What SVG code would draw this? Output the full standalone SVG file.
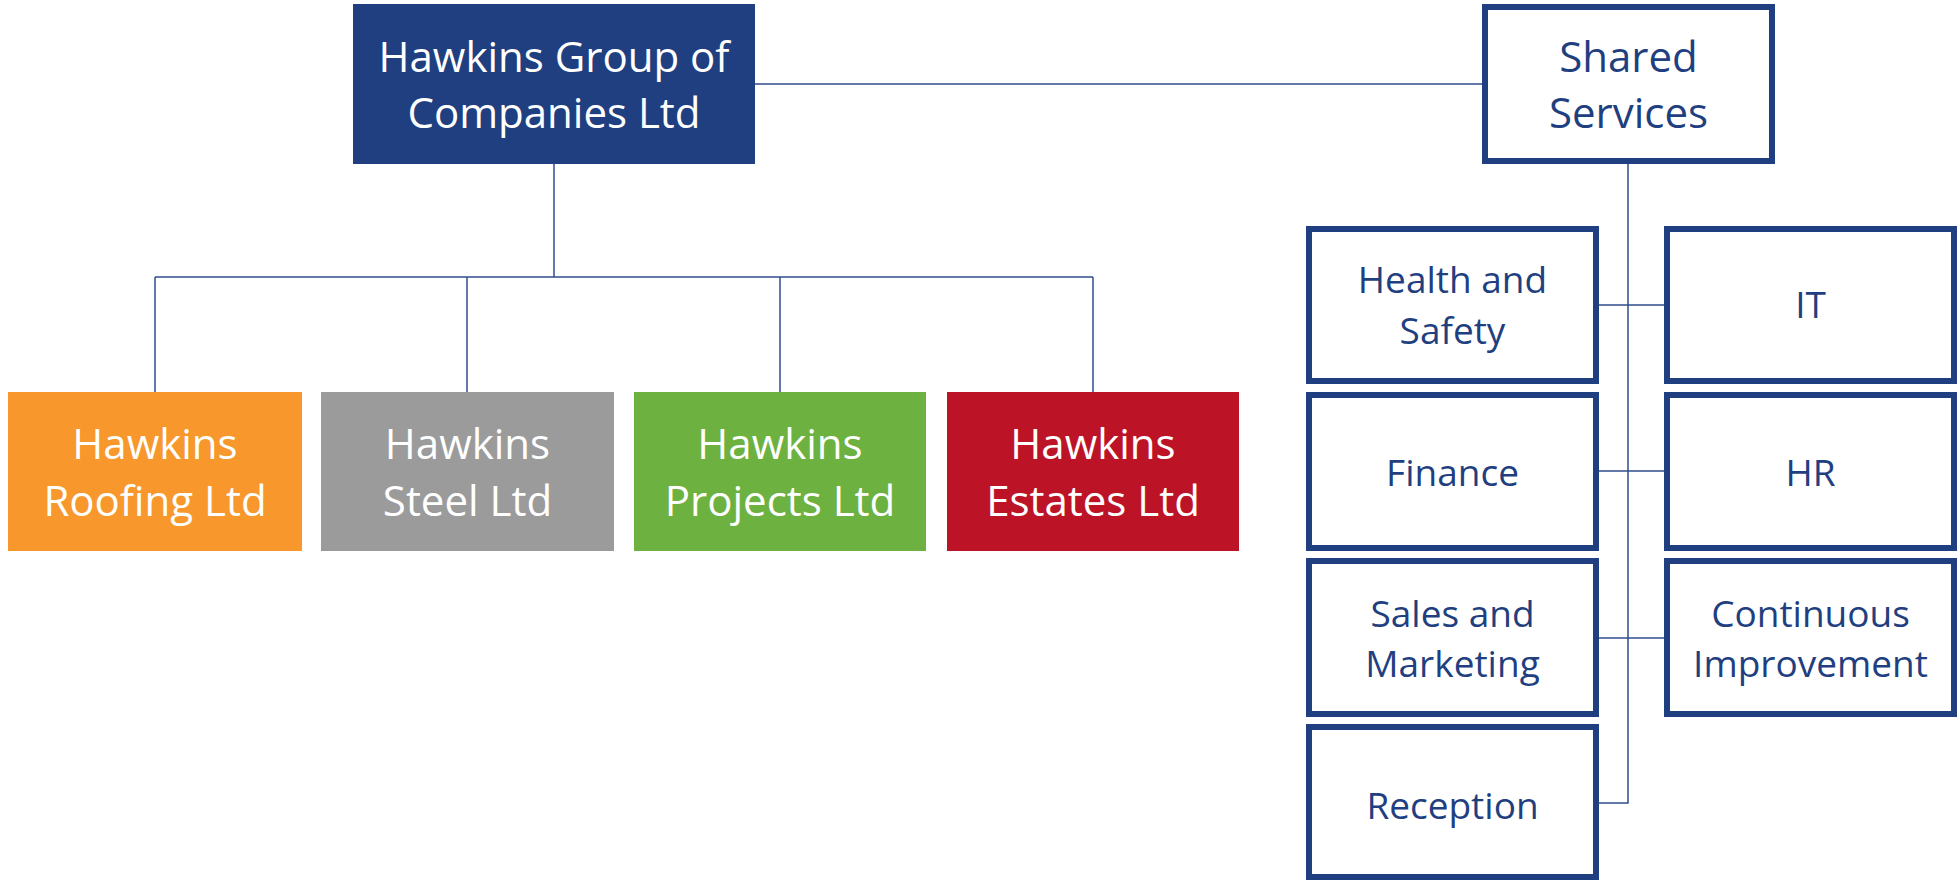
<svg xmlns="http://www.w3.org/2000/svg" width="1959" height="881" viewBox="0 0 1959 881">
<style>
.t{font-family:"Open Sans","Noto Sans","Liberation Sans",sans-serif;text-anchor:middle}
.big{font-size:42px}
.sm{font-size:37px}
.w{fill:#FFFFFF}
.b{fill:#1F3F80}
.ob{fill:#FFFFFF;stroke:#1F3F80;stroke-width:6}
.conn line,.conn polyline{stroke:#2F4D8C;stroke-width:1.5;fill:none}
</style>
<rect width="1959" height="881" fill="#FFFFFF"/>
<g id="connectors" class="conn">
<line x1="755" y1="84" x2="1482" y2="84"/>
<line x1="554" y1="164" x2="554" y2="277"/>
<line x1="155" y1="277" x2="1093" y2="277"/>
<line x1="155" y1="277" x2="155" y2="393"/>
<line x1="467" y1="277" x2="467" y2="393"/>
<line x1="780" y1="277" x2="780" y2="393"/>
<line x1="1093" y1="277" x2="1093" y2="393"/>
<polyline points="1628,164 1628,803 1599,803"/>
<line x1="1599" y1="305" x2="1664" y2="305"/>
<line x1="1599" y1="471" x2="1664" y2="471"/>
<line x1="1599" y1="638" x2="1664" y2="638"/>
</g>
<g id="group">
<rect x="353" y="4" width="402" height="160" fill="#1F3F80"/>
<text class="t big w" x="554" y="72">Hawkins Group of</text>
<text class="t big w" x="554" y="128">Companies Ltd</text>
</g>
<g id="shared">
<rect class="ob" x="1485" y="7" width="287" height="154"/>
<text class="t big b" x="1628.5" y="72">Shared</text>
<text class="t big b" x="1628.5" y="128">Services</text>
</g>
<g id="roofing">
<rect x="8" y="392" width="294" height="159" fill="#F8972B"/>
<text class="t big w" x="155" y="459">Hawkins</text>
<text class="t big w" x="155" y="516">Roofing Ltd</text>
</g>
<g id="steel">
<rect x="321" y="392" width="293" height="159" fill="#9B9B9B"/>
<text class="t big w" x="467.5" y="459">Hawkins</text>
<text class="t big w" x="467.5" y="516">Steel Ltd</text>
</g>
<g id="projects">
<rect x="634" y="392" width="292" height="159" fill="#6DB241"/>
<text class="t big w" x="780" y="459">Hawkins</text>
<text class="t big w" x="780" y="516">Projects Ltd</text>
</g>
<g id="estates">
<rect x="947" y="392" width="292" height="159" fill="#BD1327"/>
<text class="t big w" x="1093" y="459">Hawkins</text>
<text class="t big w" x="1093" y="516">Estates Ltd</text>
</g>
<g id="health">
<rect class="ob" x="1309" y="229" width="287" height="152"/>
<text class="t sm b" x="1452.5" y="293">Health and</text>
<text class="t sm b" x="1452.5" y="344">Safety</text>
</g>
<g id="it">
<rect class="ob" x="1667" y="229" width="287" height="152"/>
<text class="t sm b" x="1810.5" y="318">IT</text>
</g>
<g id="finance">
<rect class="ob" x="1309" y="395" width="287" height="153"/>
<text class="t sm b" x="1452.5" y="486">Finance</text>
</g>
<g id="hr">
<rect class="ob" x="1667" y="395" width="287" height="153"/>
<text class="t sm b" x="1810.5" y="486">HR</text>
</g>
<g id="sales">
<rect class="ob" x="1309" y="561" width="287" height="153"/>
<text class="t sm b" x="1452.5" y="627">Sales and</text>
<text class="t sm b" x="1452.5" y="677">Marketing</text>
</g>
<g id="ci">
<rect class="ob" x="1667" y="561" width="287" height="153"/>
<text class="t sm b" x="1810.5" y="627">Continuous</text>
<text class="t sm b" x="1810.5" y="677">Improvement</text>
</g>
<g id="reception">
<rect class="ob" x="1309" y="727" width="287" height="150"/>
<text class="t sm b" x="1452.5" y="819">Reception</text>
</g>
</svg>
